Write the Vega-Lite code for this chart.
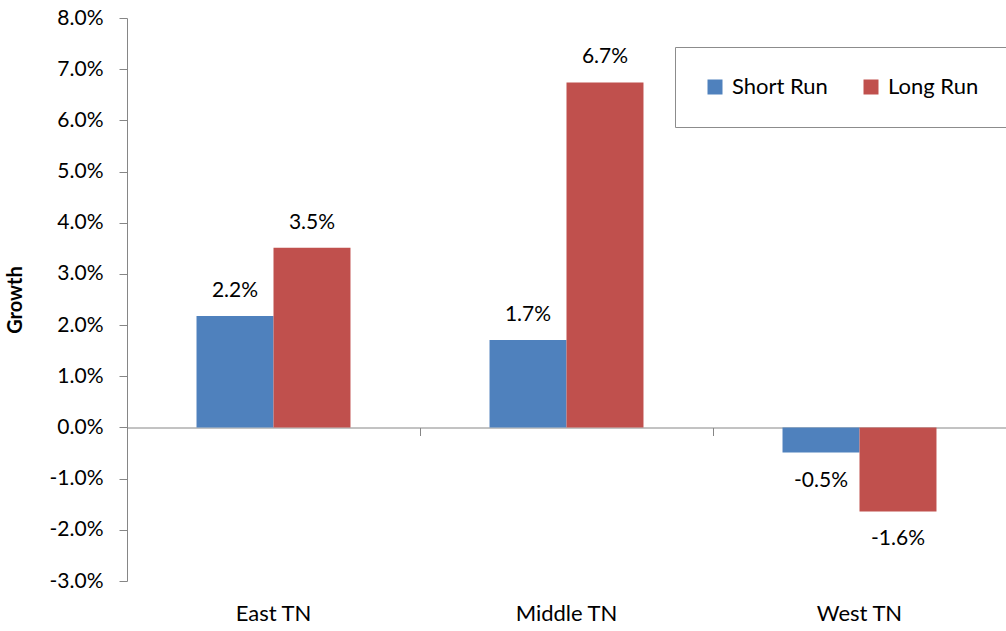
{
  "$schema": "https://vega.github.io/schema/vega-lite/v6.json",
  "width": 879,
  "height": 563,
  "autosize": {"type": "none"},
  "padding": {"left": 127, "top": 18, "right": 0, "bottom": 50},
  "background": "white",
  "config": {
    "view": {"stroke": null},
    "font": "Lato",
    "axis": {"labelFont": "Lato", "titleFont": "Lato"},
    "legend": {"labelFont": "Lato"}
  },
  "data": {
    "values": [
      {"region": "East TN", "series": "Short Run", "value": 0.0218},
      {"region": "East TN", "series": "Long Run", "value": 0.0351},
      {"region": "Middle TN", "series": "Short Run", "value": 0.0171},
      {"region": "Middle TN", "series": "Long Run", "value": 0.0674},
      {"region": "West TN", "series": "Short Run", "value": -0.0049},
      {"region": "West TN", "series": "Long Run", "value": -0.0164}
    ]
  },
  "resolve": {"axis": {"x": "independent"}},
  "layer": [
    {
      "mark": {"type": "bar"},
      "encoding": {
        "x": {
          "field": "region", "type": "nominal",
          "sort": ["East TN", "Middle TN", "West TN"],
          "scale": {"paddingInner": 0, "paddingOuter": 0},
          "axis": {"title": null, "orient": "bottom", "labelAngle": 0, "domain": false, "ticks": false, "labelFontSize": 22, "labelColor": "#000000", "labelPadding": 22}
        },
        "xOffset": {
          "field": "series", "type": "nominal",
          "sort": ["Short Run", "Long Run"],
          "scale": {"paddingInner": 0, "paddingOuter": 0.903}
        },
        "y": {
          "field": "value", "type": "quantitative",
          "scale": {"domain": [-0.03, 0.08], "nice": false, "zero": false},
          "axis": {
            "title": "Growth", "titleFontSize": 20, "titleFontWeight": "bold", "titleColor": "#000000", "titlePadding": 24,
            "format": ".1%", "labelExpr": "replace(datum.label, '\u2212', '-')",
            "values": [-0.03, -0.02, -0.01, 0, 0.01, 0.02, 0.03, 0.04, 0.05, 0.06, 0.07, 0.08],
            "grid": false, "domainColor": "#868686", "tickColor": "#868686", "tickSize": 8,
            "labelFontSize": 21, "labelColor": "#000000", "labelPadding": 16
          }
        },
        "color": {
          "field": "series", "type": "nominal",
          "sort": ["Short Run", "Long Run"],
          "scale": {"domain": ["Short Run", "Long Run"], "range": ["#4F81BD", "#C0504D"]},
          "legend": {
            "title": null, "orient": "none", "legendX": 548, "legendY": 29, "direction": "horizontal",
            "strokeColor": "#8c8c8c", "fillColor": "white", "padding": 29,
            "symbolType": "square", "symbolSize": 225, "symbolStrokeWidth": 0,
            "labelFontSize": 22, "labelColor": "#000000", "labelOffset": 6, "columnPadding": 32
          }
        }
      }
    },
    {
      "transform": [{"filter": "datum.value >= 0"}],
      "mark": {"type": "text", "fontSize": 21, "color": "#000000", "baseline": "middle", "dy": -25, "text": {"expr": "replace(format(datum.value, '.1%'), '\u2212', '-')"}},
      "encoding": {
        "x": {
          "field": "region", "type": "nominal",
          "sort": ["East TN", "Middle TN", "West TN"],
          "axis": {"title": null, "orient": "bottom", "labels": false, "domain": true, "domainColor": "#868686", "ticks": true, "tickColor": "#868686", "tickSize": 8, "bandPosition": 0, "tickExtra": true, "offset": -153.5}
        },
        "xOffset": {"field": "series", "type": "nominal", "sort": ["Short Run", "Long Run"]},
        "y": {"field": "value", "type": "quantitative"}
      }
    },
    {
      "transform": [{"filter": "datum.value < 0"}],
      "mark": {"type": "text", "fontSize": 21, "color": "#000000", "baseline": "middle", "dy": 28, "text": {"expr": "replace(format(datum.value, '.1%'), '\u2212', '-')"}},
      "encoding": {
        "x": {"field": "region", "type": "nominal", "sort": ["East TN", "Middle TN", "West TN"], "axis": null},
        "xOffset": {"field": "series", "type": "nominal", "sort": ["Short Run", "Long Run"]},
        "y": {"field": "value", "type": "quantitative"}
      }
    }
  ]
}
